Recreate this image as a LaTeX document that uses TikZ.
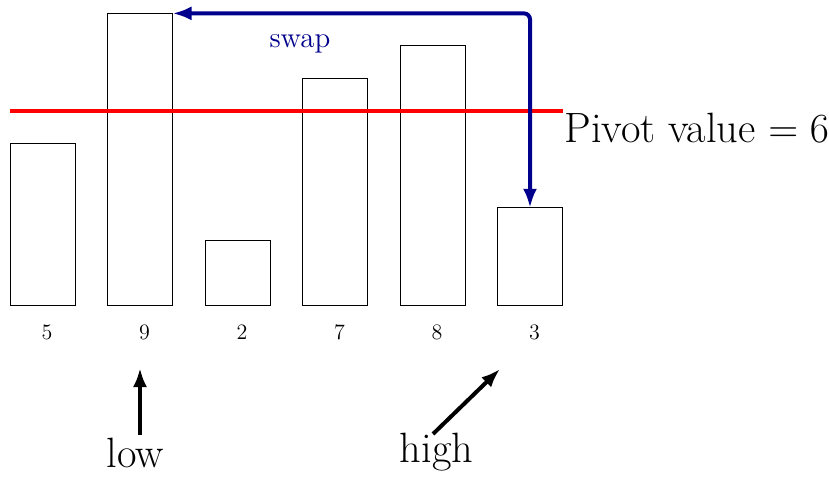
\documentclass[tikz,border=0pt]{standalone}
\usetikzlibrary{arrows.meta}
\definecolor{swapblue}{RGB}{0,0,140}
\begin{document}
\begin{tikzpicture}[x=0.5pt,y=-0.5pt,
  bar/.style={draw=black, line width=0.5pt, fill=white, inner sep=0pt, outer sep=0pt,
    minimum width=32.5pt, anchor=south west},
  numlabel/.style={font=\fontsize{11}{13}\selectfont, inner sep=0pt},
  bigtext/.style={font=\fontsize{21.2}{25}\selectfont},
  swaparrow/.style={draw=swapblue, line width=2pt, rounded corners=3pt,
    {Latex[length=9.5pt,width=7pt]}-{Latex[length=9.5pt,width=7pt]}},
  ptrarrow/.style={draw=black, line width=2pt, -{Latex[length=9.5pt,width=7pt]}},
  pivotline/.style={draw=red, line width=2pt}]
\useasboundingbox (0,0) rectangle (829,477);

% bars (unit height 32.4px = 16.2pt)
\node[bar, minimum height=81pt]   (b1) at (10,305) {};
\node[bar, minimum height=145.8pt] (b2) at (107.5,305) {};
\node[bar, minimum height=32.4pt] (b3) at (205,305) {};
\node[bar, minimum height=113.4pt] (b4) at (302.5,305) {};
\node[bar, minimum height=129.6pt] (b5) at (400,305) {};
\node[bar, minimum height=48.6pt]  (b6) at (497.5,305) {};

% value labels
\node[numlabel] (l1) at (47,332) {5};
\node[numlabel] (l2) at (144.5,332) {9};
\node[numlabel] (l3) at (242,332) {2};
\node[numlabel] (l4) at (339.5,332) {7};
\node[numlabel] (l5) at (437,332) {8};
\node[numlabel] (l6) at (534.5,332) {3};

% pivot line
\coordinate (pl) at (10,110.6);
\coordinate (pr) at (563,110.6);
\draw[pivotline] (pl) -- (pr);
\node[bigtext, anchor=base west, inner sep=0pt] (pivot) at (564,142) {Pivot value $=6$};

% swap arrow
\draw[swaparrow] (b6.north) |- (b2.north east);
\node[font=\fontsize{14.5}{17}\selectfont, text=swapblue, anchor=base, inner sep=0pt] (swap) at (300,47) {swap};

% low / high pointers
\node[bigtext] (low) at (135.5,452.5) {low};
\node[bigtext] (high) at (436.5,452.5) {high};
\coordinate (lowtail) at (140,435);
\coordinate (lowtip) at (140,368);
\coordinate (hightail) at (433,434);
\coordinate (hightip) at (500,369);
\draw[ptrarrow] (lowtail) -- (lowtip);
\draw[ptrarrow] (hightail) -- (hightip);
\end{tikzpicture}
\end{document}
